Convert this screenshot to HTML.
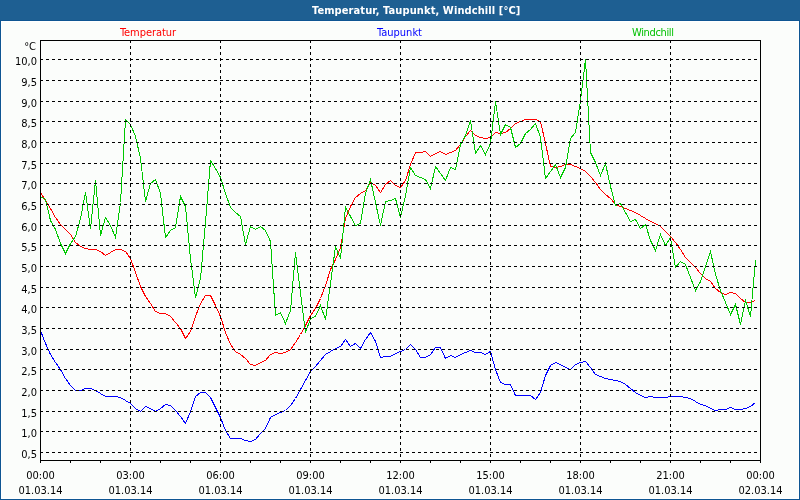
<!DOCTYPE html>
<html><head><meta charset="utf-8"><title>Temperatur, Taupunkt, Windchill</title><style>
html,body{margin:0;padding:0;width:800px;height:500px;overflow:hidden;background:#fbfdfb}
svg{display:block}
text{font-family:"DejaVu Sans Condensed","DejaVu Sans",sans-serif;font-stretch:condensed;font-size:11px}
</style></head><body>
<svg width="800" height="500" viewBox="0 0 800 500">
<rect x="0" y="0" width="800" height="500" fill="#0e5592"/>
<rect x="0" y="0" width="800" height="20" fill="#1e5f92"/>
<rect x="1" y="21" width="798" height="478" fill="#ffffff"/>
<rect x="2" y="22" width="796" height="476" fill="#fbfdfb"/>
<text x="312" y="14" fill="#ffffff" style="filter:brightness(1);font-weight:bold;font-size:11px;letter-spacing:0.1px">Temperatur, Taupunkt, Windchill [°C]</text>
<g shape-rendering="crispEdges"><polyline fill="none" stroke="#ff0000" stroke-width="1" points="40.5,192.5 45.5,200.5 50.5,208.5 55.5,217.5 60.5,224.5 65.5,229.5 70.5,234.5 75.5,242.5 80.5,246.5 85.5,248.5 90.5,249.5 95.5,249.5 100.5,251.5 105.5,255.5 110.5,252.5 115.5,249.5 120.5,249.5 125.5,251.5 130.5,258.5 135.5,272.5 140.5,286.5 145.5,296.5 150.5,303.5 155.5,311.5 160.5,313.5 165.5,313.5 170.5,316.5 175.5,322.5 180.5,328.5 185.5,338.5 190.5,331.5 195.5,316.5 200.5,303.5 205.5,295.5 210.5,295.5 215.5,305.5 220.5,316.5 225.5,332.5 230.5,344.5 235.5,351.5 240.5,354.5 245.5,358.5 250.5,364.5 255.5,365.5 260.5,362.5 265.5,360.5 270.5,354.5 275.5,352.5 280.5,353.5 285.5,352.5 290.5,349.5 295.5,342.5 300.5,334.5 305.5,325.5 310.5,315.5 315.5,308.5 320.5,298.5 325.5,285.5 330.5,269.5 335.5,259.5 340.5,247.5 345.5,218.5 350.5,206.5 355.5,197.5 360.5,193.5 365.5,190.5 370.5,182.5 375.5,185.5 380.5,192.5 385.5,184.5 390.5,180.5 395.5,185.5 400.5,187.5 405.5,180.5 410.5,164.5 415.5,152.5 420.5,152.5 425.5,151.5 430.5,156.5 435.5,153.5 440.5,151.5 445.5,154.5 450.5,152.5 455.5,150.5 460.5,144.5 465.5,136.5 470.5,130.5 475.5,135.5 480.5,137.5 485.5,138.5 490.5,137.5 495.5,132.5 500.5,133.5 505.5,132.5 510.5,128.5 515.5,123.5 520.5,121.5 525.5,119.5 530.5,119.5 535.5,119.5 540.5,121.5 545.5,143.5 550.5,166.5 555.5,167.5 560.5,166.5 565.5,164.5 570.5,164.5 575.5,166.5 580.5,168.5 585.5,171.5 590.5,176.5 595.5,182.5 600.5,189.5 605.5,194.5 610.5,198.5 615.5,204.5 620.5,206.5 625.5,208.5 630.5,210.5 635.5,212.5 640.5,215.5 645.5,218.5 650.5,221.5 655.5,223.5 660.5,226.5 665.5,231.5 670.5,236.5 675.5,242.5 680.5,249.5 685.5,257.5 690.5,262.5 695.5,267.5 700.5,273.5 705.5,278.5 710.5,281.5 715.5,288.5 720.5,292.5 725.5,294.5 730.5,292.5 735.5,293.5 740.5,298.5 745.5,302.5 750.5,302.5 755.5,300.5"/><polyline fill="none" stroke="#0000ff" stroke-width="1" points="40.5,330.5 45.5,343.5 50.5,354.5 55.5,362.5 60.5,369.5 65.5,378.5 70.5,385.5 75.5,390.5 80.5,390.5 85.5,388.5 90.5,388.5 95.5,390.5 100.5,393.5 105.5,396.5 110.5,396.5 115.5,396.5 120.5,397.5 125.5,400.5 130.5,403.5 135.5,408.5 140.5,411.5 145.5,406.5 150.5,408.5 155.5,411.5 160.5,408.5 165.5,404.5 170.5,405.5 175.5,410.5 180.5,416.5 185.5,423.5 190.5,411.5 195.5,396.5 200.5,392.5 205.5,392.5 210.5,397.5 215.5,407.5 220.5,417.5 225.5,430.5 230.5,438.5 235.5,438.5 240.5,438.5 245.5,440.5 250.5,441.5 255.5,439.5 260.5,433.5 265.5,428.5 270.5,417.5 275.5,414.5 280.5,412.5 285.5,410.5 290.5,405.5 295.5,398.5 300.5,389.5 305.5,380.5 310.5,371.5 315.5,366.5 320.5,360.5 325.5,354.5 330.5,351.5 335.5,348.5 340.5,346.5 345.5,339.5 350.5,346.5 355.5,343.5 360.5,348.5 365.5,339.5 370.5,332.5 375.5,341.5 380.5,357.5 385.5,356.5 390.5,356.5 395.5,353.5 400.5,351.5 405.5,349.5 410.5,344.5 415.5,349.5 420.5,357.5 425.5,357.5 430.5,354.5 435.5,347.5 440.5,347.5 445.5,358.5 450.5,355.5 455.5,357.5 460.5,354.5 465.5,352.5 470.5,350.5 475.5,352.5 480.5,352.5 485.5,354.5 490.5,351.5 495.5,369.5 500.5,382.5 505.5,384.5 510.5,384.5 515.5,395.5 520.5,395.5 525.5,395.5 530.5,395.5 535.5,399.5 540.5,392.5 545.5,375.5 550.5,365.5 555.5,362.5 560.5,364.5 565.5,367.5 570.5,369.5 575.5,364.5 580.5,362.5 585.5,361.5 590.5,367.5 595.5,374.5 600.5,376.5 605.5,378.5 610.5,379.5 615.5,380.5 620.5,381.5 625.5,384.5 630.5,388.5 635.5,392.5 640.5,395.5 645.5,397.5 650.5,396.5 655.5,397.5 660.5,397.5 665.5,397.5 670.5,396.5 675.5,396.5 680.5,396.5 685.5,397.5 690.5,398.5 695.5,401.5 700.5,404.5 705.5,405.5 710.5,408.5 715.5,410.5 720.5,409.5 725.5,409.5 730.5,407.5 735.5,409.5 740.5,409.5 745.5,408.5 750.5,406.5 755.5,402.5"/><polyline fill="none" stroke="#00c800" stroke-width="1" points="40.5,196.5 45.5,199.5 50.5,220.5 55.5,229.5 60.5,243.5 65.5,253.5 70.5,243.5 75.5,236.5 80.5,218.5 85.5,192.5 90.5,228.5 95.5,180.5 100.5,235.5 105.5,217.5 110.5,225.5 115.5,237.5 120.5,202.5 125.5,119.5 130.5,124.5 135.5,136.5 140.5,158.5 145.5,201.5 150.5,183.5 155.5,179.5 160.5,193.5 165.5,237.5 170.5,230.5 175.5,227.5 180.5,196.5 185.5,206.5 190.5,258.5 195.5,297.5 200.5,278.5 205.5,222.5 210.5,160.5 215.5,168.5 220.5,177.5 225.5,193.5 230.5,207.5 235.5,212.5 240.5,216.5 245.5,244.5 250.5,226.5 255.5,229.5 260.5,226.5 265.5,230.5 270.5,241.5 275.5,315.5 280.5,312.5 285.5,323.5 290.5,310.5 295.5,252.5 300.5,292.5 305.5,332.5 310.5,318.5 315.5,316.5 320.5,305.5 325.5,319.5 330.5,283.5 335.5,246.5 340.5,258.5 345.5,207.5 350.5,216.5 355.5,225.5 360.5,223.5 365.5,193.5 370.5,179.5 375.5,202.5 380.5,225.5 385.5,201.5 390.5,200.5 395.5,198.5 400.5,217.5 405.5,195.5 410.5,167.5 415.5,175.5 420.5,177.5 425.5,179.5 430.5,188.5 435.5,166.5 440.5,173.5 445.5,180.5 450.5,167.5 455.5,169.5 460.5,144.5 465.5,135.5 470.5,120.5 475.5,153.5 480.5,145.5 485.5,154.5 490.5,143.5 495.5,101.5 500.5,134.5 505.5,124.5 510.5,127.5 515.5,147.5 520.5,143.5 525.5,133.5 530.5,129.5 535.5,123.5 540.5,137.5 545.5,178.5 550.5,171.5 555.5,164.5 560.5,177.5 565.5,167.5 570.5,138.5 575.5,132.5 580.5,100.5 585.5,59.5 590.5,152.5 595.5,162.5 600.5,175.5 605.5,163.5 610.5,186.5 615.5,205.5 620.5,203.5 625.5,212.5 630.5,221.5 635.5,219.5 640.5,228.5 645.5,224.5 650.5,240.5 655.5,250.5 660.5,234.5 665.5,245.5 670.5,237.5 675.5,267.5 680.5,261.5 685.5,264.5 690.5,277.5 695.5,290.5 700.5,281.5 705.5,266.5 710.5,251.5 715.5,274.5 720.5,290.5 725.5,302.5 730.5,314.5 735.5,304.5 740.5,324.5 745.5,300.5 750.5,316.5 755.5,260.5"/></g>
<g stroke="#000" stroke-width="1" stroke-dasharray="3 3" shape-rendering="crispEdges">
<line x1="40" y1="59.5" x2="760" y2="59.5"/>
<line x1="40" y1="80.5" x2="760" y2="80.5"/>
<line x1="40" y1="101.5" x2="760" y2="101.5"/>
<line x1="40" y1="121.5" x2="760" y2="121.5"/>
<line x1="40" y1="142.5" x2="760" y2="142.5"/>
<line x1="40" y1="163.5" x2="760" y2="163.5"/>
<line x1="40" y1="183.5" x2="760" y2="183.5"/>
<line x1="40" y1="204.5" x2="760" y2="204.5"/>
<line x1="40" y1="225.5" x2="760" y2="225.5"/>
<line x1="40" y1="245.5" x2="760" y2="245.5"/>
<line x1="40" y1="266.5" x2="760" y2="266.5"/>
<line x1="40" y1="287.5" x2="760" y2="287.5"/>
<line x1="40" y1="307.5" x2="760" y2="307.5"/>
<line x1="40" y1="328.5" x2="760" y2="328.5"/>
<line x1="40" y1="349.5" x2="760" y2="349.5"/>
<line x1="40" y1="369.5" x2="760" y2="369.5"/>
<line x1="40" y1="390.5" x2="760" y2="390.5"/>
<line x1="40" y1="411.5" x2="760" y2="411.5"/>
<line x1="40" y1="431.5" x2="760" y2="431.5"/>
<line x1="40" y1="452.5" x2="760" y2="452.5"/>
<line x1="130.5" y1="40" x2="130.5" y2="460"/>
<line x1="220.5" y1="40" x2="220.5" y2="460"/>
<line x1="310.5" y1="40" x2="310.5" y2="460"/>
<line x1="400.5" y1="40" x2="400.5" y2="460"/>
<line x1="490.5" y1="40" x2="490.5" y2="460"/>
<line x1="580.5" y1="40" x2="580.5" y2="460"/>
<line x1="670.5" y1="40" x2="670.5" y2="460"/>
</g>
<g stroke="#000" stroke-width="1" shape-rendering="crispEdges">
<line x1="40.5" y1="460" x2="40.5" y2="463"/><line x1="70.5" y1="460" x2="70.5" y2="463"/><line x1="100.5" y1="460" x2="100.5" y2="463"/><line x1="130.5" y1="460" x2="130.5" y2="463"/><line x1="160.5" y1="460" x2="160.5" y2="463"/><line x1="190.5" y1="460" x2="190.5" y2="463"/><line x1="220.5" y1="460" x2="220.5" y2="463"/><line x1="250.5" y1="460" x2="250.5" y2="463"/><line x1="280.5" y1="460" x2="280.5" y2="463"/><line x1="310.5" y1="460" x2="310.5" y2="463"/><line x1="340.5" y1="460" x2="340.5" y2="463"/><line x1="370.5" y1="460" x2="370.5" y2="463"/><line x1="400.5" y1="460" x2="400.5" y2="463"/><line x1="430.5" y1="460" x2="430.5" y2="463"/><line x1="460.5" y1="460" x2="460.5" y2="463"/><line x1="490.5" y1="460" x2="490.5" y2="463"/><line x1="520.5" y1="460" x2="520.5" y2="463"/><line x1="550.5" y1="460" x2="550.5" y2="463"/><line x1="580.5" y1="460" x2="580.5" y2="463"/><line x1="610.5" y1="460" x2="610.5" y2="463"/><line x1="640.5" y1="460" x2="640.5" y2="463"/><line x1="670.5" y1="460" x2="670.5" y2="463"/><line x1="700.5" y1="460" x2="700.5" y2="463"/><line x1="730.5" y1="460" x2="730.5" y2="463"/><line x1="760.5" y1="460" x2="760.5" y2="463"/>
<rect x="40.5" y="40.5" width="720" height="420" fill="none"/>
</g>
<g text-anchor="end" fill="#000" style="filter:grayscale(1)">
<text x="36" y="50">°C</text>
<text x="37" y="65">10,0</text>
<text x="37" y="86">9,5</text>
<text x="37" y="107">9,0</text>
<text x="37" y="127">8,5</text>
<text x="37" y="148">8,0</text>
<text x="37" y="169">7,5</text>
<text x="37" y="189">7,0</text>
<text x="37" y="210">6,5</text>
<text x="37" y="231">6,0</text>
<text x="37" y="251">5,5</text>
<text x="37" y="272">5,0</text>
<text x="37" y="293">4,5</text>
<text x="37" y="313">4,0</text>
<text x="37" y="334">3,5</text>
<text x="37" y="355">3,0</text>
<text x="37" y="375">2,5</text>
<text x="37" y="396">2,0</text>
<text x="37" y="417">1,5</text>
<text x="37" y="437">1,0</text>
<text x="37" y="458">0,5</text>
</g>
<g text-anchor="middle" fill="#000" style="filter:grayscale(1)">
<text x="40.5" y="479">00:00</text><text x="40.5" y="494">01.03.14</text>
<text x="130.5" y="479">03:00</text><text x="130.5" y="494">01.03.14</text>
<text x="220.5" y="479">06:00</text><text x="220.5" y="494">01.03.14</text>
<text x="310.5" y="479">09:00</text><text x="310.5" y="494">01.03.14</text>
<text x="400.5" y="479">12:00</text><text x="400.5" y="494">01.03.14</text>
<text x="490.5" y="479">15:00</text><text x="490.5" y="494">01.03.14</text>
<text x="580.5" y="479">18:00</text><text x="580.5" y="494">01.03.14</text>
<text x="670.5" y="479">21:00</text><text x="670.5" y="494">01.03.14</text>
<text x="760.5" y="479">00:00</text><text x="760.5" y="494">02.03.14</text>
</g>
<g style="filter:brightness(1)"><text x="120" y="36" fill="#ff0000" textLength="56" lengthAdjust="spacing">Temperatur</text>
<text x="377" y="36" fill="#0000ff" textLength="45" lengthAdjust="spacing">Taupunkt</text>
<text x="632" y="36" fill="#00c000" textLength="42" lengthAdjust="spacing">Windchill</text></g>
</svg>
</body></html>
